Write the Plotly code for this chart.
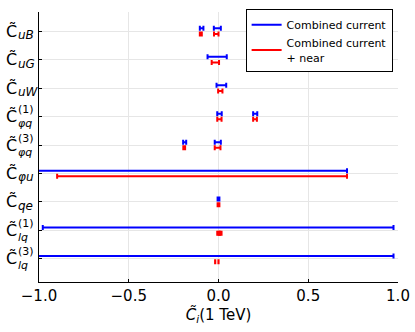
import plotly.graph_objects as go

# coefficients, top to bottom
coefficients = ["uB", "uG", "uW", "φq(1)", "φq(3)", "φu", "qe", "lq(1)", "lq(3)"]
sub_labels = ["uB", "uG", "uW", "φq", "φq", "φu", "qe", "lq", "lq"]
sup_labels = ["", "", "", "(1)", "(3)", "", "", "(1)", "(3)"]

# allowed intervals, "Combined current"
current_coef = ["uB", "uB", "uG", "uW", "φq(1)", "φq(1)", "φq(3)", "φq(3)", "φu", "qe", "lq(1)", "lq(3)"]
current_lo = [-0.104, -0.026, -0.061, -0.011, -0.007, 0.193, -0.197, -0.021, -1.3, -0.005, -0.979, -1.3]
current_hi = [-0.084, 0.013, 0.046, 0.043, 0.018, 0.216, -0.180, 0.013, 0.716, 0.005, 0.975, 0.975]

# allowed intervals, "Combined current + near"
near_coef = ["uB", "uB", "uG", "uW", "φq(1)", "φq(1)", "φq(3)", "φq(3)", "φu", "qe",
             "lq(1)", "lq(1)", "lq(1)", "lq(3)", "lq(3)"]
near_lo = [-0.104, -0.025, -0.038, -0.002, -0.007, 0.193, -0.196, -0.021, -0.899, -0.005,
           -0.007, 0.001, 0.009, -0.0190, -0.0005]
near_hi = [-0.093, 0.000, 0.003, 0.022, 0.017, 0.214, -0.186, 0.011, 0.716, 0.005,
           0.001, 0.009, 0.017, -0.0180, 0.0005]

x_ticks = [-1.0, -0.5, 0.0, 0.5, 1.0]

FONT = "DejaVu Sans"
ypos = {c: len(coefficients) - i for i, c in enumerate(coefficients)}


def interval_trace(coefs, lo, hi, offset, color):
    xc = [(a + b) / 2 for a, b in zip(lo, hi)]
    half = [(b - a) / 2 for a, b in zip(lo, hi)]
    return go.Scatter(
        x=xc,
        y=[ypos[c] + offset for c in coefs],
        mode="markers",
        marker=dict(size=1, opacity=0, color=color),
        error_x=dict(type="data", array=half, symmetric=True,
                     width=2.5, thickness=2, color=color),
        showlegend=False,
        hoverinfo="skip",
    )


fig = go.Figure()
fig.add_trace(interval_trace(current_coef, current_lo, current_hi, 0.1, "#0000ff"))
fig.add_trace(interval_trace(near_coef, near_lo, near_hi, -0.1, "#ff0000"))

# legend entries
fig.add_trace(go.Scatter(x=[None], y=[None], mode="lines", name="Combined current",
                         line=dict(color="#0000ff", width=2)))
fig.add_trace(go.Scatter(x=[None], y=[None], mode="lines", name="Combined current<br>+ near",
                         line=dict(color="#ff0000", width=2)))

# y labels: C̃ with stacked sub/superscripts
for c, sub, sup in zip(coefficients, sub_labels, sup_labels):
    fig.add_annotation(text="C̃", x=0, xref="paper", xanchor="left", xshift=-35,
                       y=ypos[c], yref="y", yanchor="middle", showarrow=False,
                       font=dict(family=FONT, size=16, color="black"))
    if sup:
        fig.add_annotation(text=f"{sup}<br><i>{sub}</i>", x=0, xref="paper", xanchor="left",
                           xshift=-23, y=ypos[c], yref="y", yanchor="middle", align="left",
                           showarrow=False, font=dict(family=FONT, size=11, color="black"))
    else:
        fig.add_annotation(text=f"<i>{sub}</i>", x=0, xref="paper", xanchor="left",
                           xshift=-23, y=ypos[c], yref="y", yanchor="middle", yshift=-4,
                           showarrow=False, font=dict(family=FONT, size=12, color="black"))

fig.update_layout(
    width=415,
    height=332,
    margin=dict(l=39, r=17, t=12, b=50, autoexpand=False),
    plot_bgcolor="white",
    paper_bgcolor="white",
    font=dict(family=FONT, color="black"),
    legend=dict(x=0.985, xanchor="right", y=1.01, yanchor="top",
                bordercolor="black", borderwidth=1, bgcolor="white",
                font=dict(size=11, family=FONT), tracegroupgap=0),
)
fig.update_xaxes(
    range=[-1, 1], tickvals=x_ticks, tickformat=".1f", automargin=False,
    showgrid=True, gridcolor="#e6e6e6", gridwidth=1, zeroline=False,
    showline=True, linecolor="black", linewidth=1,
    ticks="inside", ticklen=3, tickcolor="black",
    tickfont=dict(size=15, family=FONT),
    title=dict(text="<i>C̃</i><sub><i>i</i></sub>(1 TeV)", font=dict(size=15, family=FONT), standoff=4),
)
fig.update_yaxes(
    range=[0.19, 9.67], tickvals=list(ypos.values()), showticklabels=False, automargin=False,
    showgrid=True, gridcolor="#e6e6e6", gridwidth=1, zeroline=False,
    showline=True, linecolor="black", linewidth=1,
    ticks="inside", ticklen=3, tickcolor="black",
)

# page body has a default 8px margin; remove it so the figure fills the window
fig.write_html("out.html", config={"displayModeBar": False},
               post_script="document.body.style.margin='0';")
